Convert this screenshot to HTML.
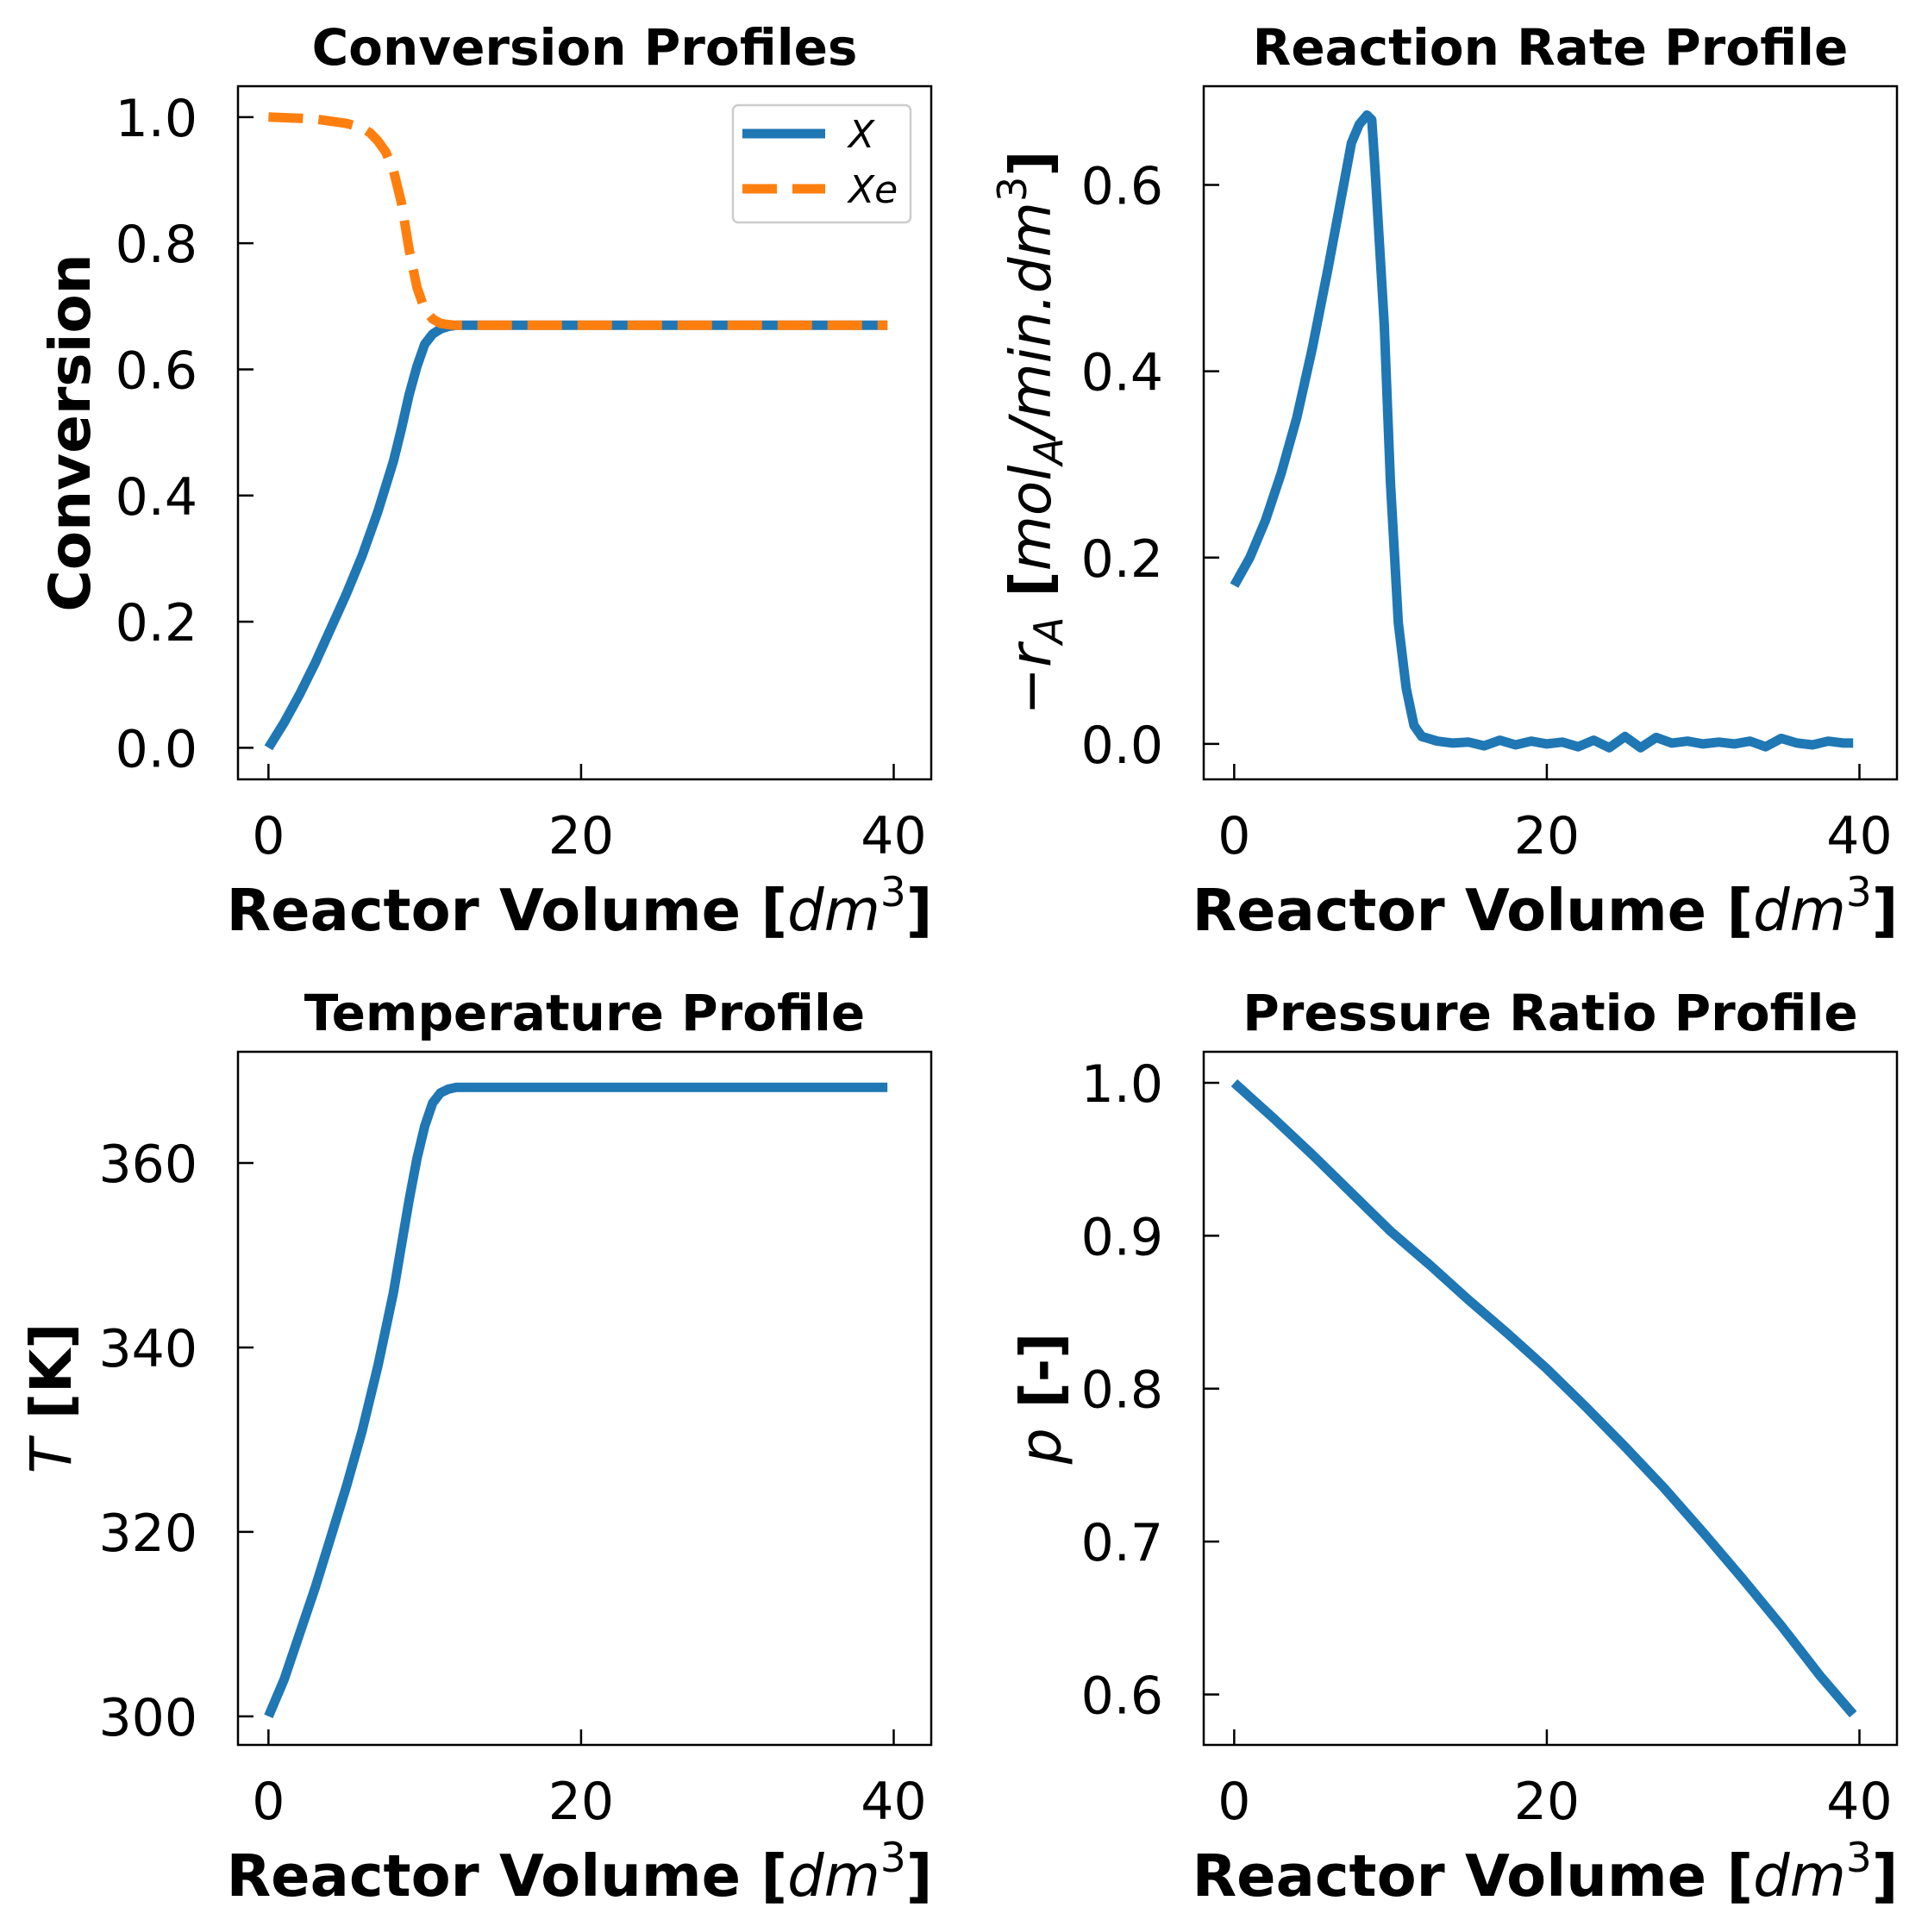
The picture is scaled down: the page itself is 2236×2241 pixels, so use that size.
<!DOCTYPE html>
<html><head><meta charset="utf-8"><style>
html,body{margin:0;padding:0;background:#fff}
svg{display:block}
text{font-family:"DejaVu Sans","Liberation Sans",sans-serif;fill:#000}
</style></head><body>
<svg id="fig" width="2236" height="2241" viewBox="0 0 2236 2241" xmlns="http://www.w3.org/2000/svg"></svg>
<script>
const volX=[0,1,2,3,4,5,6,7,8,8.5,9,9.5,10,10.5,11,11.5,12,15,20,25,30,35,39.6];
const convX=[0,0.04,0.085,0.135,0.19,0.245,0.305,0.375,0.455,0.505,0.56,0.605,0.64,0.656,0.664,0.668,0.67,0.67,0.67,0.67,0.67,0.67,0.67];
const volXe=[0,3,5,6,6.5,7,7.5,8,8.5,9,9.5,10,10.5,11,11.5,12,15,20,25,30,35,39.6];
const convXe=[1.0,0.997,0.99,0.983,0.975,0.962,0.945,0.915,0.865,0.79,0.73,0.695,0.68,0.673,0.671,0.67,0.67,0.67,0.67,0.67,0.67,0.67];
const volR=[0,1,2,3,4,5,6,7,7.5,8,8.5,8.8,9,9.6,10,10.5,11,11.5,12,13,14,15,16,17,18,19,20,21,22,23,24,25,26,27,28,29,30,31,32,33,34,35,36,37,38,39,39.6];
const rate=[0.17,0.2,0.24,0.29,0.35,0.425,0.51,0.6,0.645,0.665,0.675,0.67,0.62,0.45,0.28,0.13,0.06,0.02,0.008,0.003,0.001,0.002,-0.002,0.004,-0.001,0.003,0.0,0.002,-0.003,0.004,-0.004,0.008,-0.004,0.007,0.001,0.003,0.0,0.002,0.0,0.003,-0.003,0.006,0.001,-0.001,0.003,0.001,0.001];
const volT=[0,1,2,3,4,5,6,7,8,8.5,9,9.5,10,10.5,11,11.5,12,15,20,25,30,35,39.6];
const temp=[300,304,309,314,319.5,325,331,338,346,351,356,360.5,364,366.5,367.6,368,368.2,368.2,368.2,368.2,368.2,368.2,368.2];
const volP=[0,2.5,5,7.5,10,12.5,15,17.5,20,22.5,25,27.5,30,32.5,35,37.5,39.6];
const pres=[1.0,0.977,0.953,0.928,0.903,0.881,0.858,0.836,0.813,0.788,0.762,0.735,0.706,0.676,0.645,0.612,0.587];
const xTicks=[0,20,40];
const yTicksConv=[0,0.2,0.4,0.6,0.8,1.0];
const yTicksRate=[0,0.2,0.4,0.6];
const yTicksT=[300,320,340,360];
const yTicksP=[0.6,0.7,0.8,0.9,1.0];

const NS="http://www.w3.org/2000/svg";
const svg=document.getElementById('fig');
function el(tag,attrs,parent){const e=document.createElementNS(NS,tag);for(const k in attrs)e.setAttribute(k,attrs[k]);(parent||svg).appendChild(e);return e;}
const W=804,H=804;
function panel(ox,oy,name,ylim,yticks,fmt,title,ylabelHTML,ylabX,series){
  const g=el('g',{});
  
  
  const xs=v=>ox+W*(v-(-1.95))/(42.4+1.95);
  const ys=v=>oy+H*(ylim[1]-v)/(ylim[1]-ylim[0]);
  series.forEach(s=>{
    const d=s.x.map((v,i)=>(i?'L':'M')+xs(v).toFixed(1)+','+ys(s.y[i]).toFixed(1)).join(' ');
    const p=el('path',{d:d,fill:'none',stroke:s.c,'stroke-width':11,'stroke-linejoin':'round','stroke-dasharray':s.dash||'none'},g);
    
    
  });
  const frame=el('rect',{x:ox,y:oy,width:W,height:H,fill:'none',stroke:'#000','stroke-width':2.5},g);
  
  
  xTicks.forEach(t=>{
    const x=xs(t);
    el('line',{x1:x,y1:oy+H,x2:x,y2:oy+H-18,stroke:'#000','stroke-width':2.5},g);
    const tx=el('text',{x:x,y:oy+H+86,'font-size':60,'text-anchor':'middle'},g);
    tx.textContent=t;
    
    
  });
  yticks.forEach(t=>{
    const y=ys(t);
    el('line',{x1:ox,y1:y,x2:ox+18,y2:y,stroke:'#000','stroke-width':2.5},g);
    const tx=el('text',{x:ox-47,y:y+22,'font-size':60,'text-anchor':'end'},g);
    tx.textContent=fmt(t);
    
    
  });
  const tt=el('text',{x:ox+W/2,y:oy-25,'font-size':58,'font-weight':'bold','text-anchor':'middle'},g);
  tt.textContent=title;
  
  
  const xl=el('text',{x:ox+W/2-6,y:oy+H+175,'font-size':67,'font-weight':'bold','text-anchor':'middle'},g);
  xl.innerHTML='Reactor Volume [<tspan font-style="italic" font-weight="normal">dm</tspan><tspan font-weight="normal" font-size="47" dy="-28">3</tspan><tspan dy="28">]</tspan>';
  
  
  const yl=el('text',{x:0,y:0,'font-size':66,'font-weight':'bold','text-anchor':'middle',transform:`translate(${ylabX},${oy+H/2}) rotate(-90)`},g);
  yl.innerHTML=ylabelHTML;
  
  
  return g;
}
panel(276,100,'conversion-panel',[-0.05,1.049],yTicksConv,v=>v.toFixed(1),'Conversion Profiles','Conversion',104,
 [{x:volX,y:convX,c:'#1f77b4',n:'x-line'},{x:volXe,y:convXe,c:'#ff7f0e',dash:'40,18',n:'xe-line'}]);
panel(1396,100,'rate-panel',[-0.038,0.706],yTicksRate,v=>v.toFixed(1),'Reaction Rate Profile',
 '<tspan font-weight="normal" font-style="italic">−r</tspan><tspan font-weight="normal" font-style="italic" font-size="46" dy="14">A</tspan><tspan dy="-14"> [</tspan><tspan font-weight="normal" font-style="italic">mol</tspan><tspan font-weight="normal" font-style="italic" font-size="46" dy="14">A</tspan><tspan dy="-14" font-weight="normal" font-style="italic">/min.dm</tspan><tspan font-weight="normal" font-size="46" dy="-28">3</tspan><tspan dy="28">]</tspan>',1218,
 [{x:volR,y:rate,c:'#1f77b4',n:'rate-line'}]);
panel(276,1220,'temperature-panel',[296.9,372.06],yTicksT,v=>v.toFixed(0),'Temperature Profile',
 '<tspan font-weight="normal" font-style="italic">T</tspan> [K]',82,
 [{x:volT,y:temp,c:'#1f77b4',n:'temperature-line'}]);
panel(1396,1220,'pressure-panel',[0.567,1.0203],yTicksP,v=>v.toFixed(1),'Pressure Ratio Profile',
 '<tspan font-weight="normal" font-style="italic">p</tspan> [-]',1230,
 [{x:volP,y:pres,c:'#1f77b4',n:'pressure-line'}]);
const lg=el('g',{});


el('rect',{x:850,y:122,width:206,height:136,rx:6,fill:'#fff',stroke:'#ccc','stroke-width':2.5},lg);
el('line',{x1:861,y1:155,x2:957,y2:155,stroke:'#1f77b4','stroke-width':11},lg);
el('line',{x1:861,y1:219,x2:957,y2:219,stroke:'#ff7f0e','stroke-width':11,'stroke-dasharray':'40,18'},lg);
const l1=el('text',{x:984,y:171,'font-size':44,'font-style':'italic'},lg);l1.textContent='X';


const l2=el('text',{x:984,y:235,'font-size':44,'font-style':'italic'},lg);l2.textContent='Xe';


</script>
</body></html>
